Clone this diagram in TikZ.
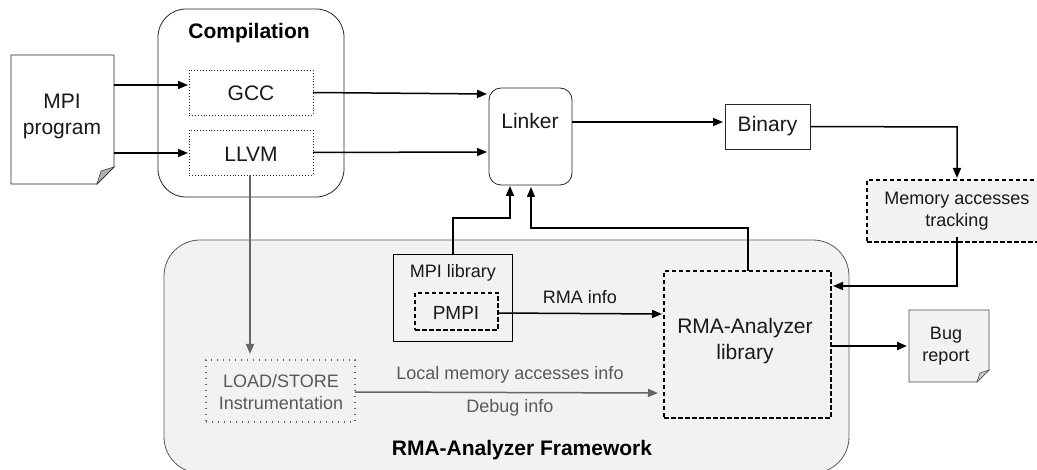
\documentclass[tikz,border=0pt]{standalone}
\usepackage{fontspec}
\setmainfont{Liberation Sans}
\usetikzlibrary{arrows.meta}
\tikzset{
  x=1pt,y=-1pt,
  every node/.style={inner sep=0pt,outer sep=0pt,align=center,text=black!90},
  box/.style={draw=black!85,line width=0.8pt,rectangle,anchor=north west},
  dotbox/.style={box,line width=0.8pt,dash pattern=on 0.9pt off 2pt},
  dashbox/.style={box,draw=black,line width=1.2pt,dash pattern=on 4.5pt off 2.5pt},
  framebox/.style={draw=black!65,line width=0.8pt,rounded corners=36pt},
  conn/.style={draw=black,line width=1.5pt,-{Triangle[length=10pt,width=8pt]}},
  gconn/.style={draw=black!60,line width=1.5pt,-{Triangle[length=10pt,width=8pt]}},
  big/.style={font=\fontsize{21}{26}\selectfont},
  mid/.style={font=\fontsize{18}{22}\selectfont},
  heading/.style={font=\bfseries\fontsize{21}{24}\selectfont,text=black},
}
\begin{document}
\begin{tikzpicture}
\useasboundingbox (0,0) rectangle (1037,470);
\clip (0,0) rectangle (1037,470);
% framework
\path[framebox,fill=black!5] (164,240) rectangle (849,473);
% compilation
\draw[draw=black!85,line width=0.8pt,rounded corners=28pt] (158,9) rectangle (344,197);
\node[heading] (comp) at (249,33) {Compilation};
% MPI program
\draw[draw=black!85,line width=0.8pt] (11,55) -- (114,55) -- (114,167) -- (97,184) -- (11,184) -- cycle;
\draw[draw=black!85,line width=0.5pt,fill=black!30] (114,167) -- (101,171) -- (97,184) -- cycle;
\node[big] (prog) at (62,116) {MPI\\program};
\coordinate (progA) at (114,85);
\coordinate (progB) at (114,153);
% compilers
\node[dotbox,minimum width=124pt,minimum height=45pt] (gcc) at (189,70) {};
\node[big] at (251,93) {GCC};
\node[dotbox,minimum width=124pt,minimum height=45pt] (llvm) at (189,130) {};
\node[big] at (251,154) {LLVM};
% linker
\node[draw=black!85,line width=0.8pt,rounded corners=12pt,anchor=north west,minimum width=83pt,minimum height=97pt] (linker) at (489,88) {};
\node[big] at (530,121) {Linker};
% binary
\node[box,minimum width=85pt,minimum height=45pt,big] (binary) at (725,104) {Binary};
% memory
\node[dashbox,fill=black!5,minimum width=175pt,minimum height=62pt] (mem) at (867,180) {};
\node[mid] at (957,211) {Memory accesses\\tracking};
% rma lib
\node[dashbox,minimum width=167pt,minimum height=147pt] (rma) at (664,271) {};
\node[big] at (745,341) {RMA-Analyzer\\library};
% bug
\draw[draw=black!70,fill=black!5,line width=0.8pt] (909,310) -- (989,310) -- (989,370) -- (977,382) -- (909,382) -- cycle;
\draw[draw=black!70,fill=black!20,line width=0.5pt] (989,370) -- (980,373) -- (977,382) -- cycle;
\node[mid] (bug) at (946,346) {Bug\\report};
% MPI lib
\node[box,draw=black,minimum width=119pt,minimum height=87pt] (mpilib) at (393,254) {};
\node[mid] at (453,273) {MPI library};
\node[dashbox,minimum width=83pt,minimum height=37pt] (pmpi) at (415,293) {};
\node[font=\fontsize{19}{22}\selectfont] at (456,313) {PMPI};
% load/store
\node[draw=black!60,line width=1.1pt,dash pattern=on 1.2pt off 4.8pt,rectangle,anchor=north west,minimum width=149pt,minimum height=62pt] (load) at (206,360) {};
\node[mid,text=black!65] at (281,392) {LOAD/STORE\\Instrumentation};
% labels
\node[mid] at (580,297) {RMA info};
\node[mid,text=black!65] at (510,375) {Local memory accesses info};
\node[mid,text=black!65] at (510,408) {Debug info};
\node[heading] (fw) at (522,450) {RMA-Analyzer Framework};
% connectors
\draw[conn] (progA) -- (188,85);
\draw[conn] (progB) -- (188,153);
\draw[conn] (gcc.east) -- (487,94);
\draw[conn] (llvm.east) -- (487,152);
\draw[conn] (572,122) -- (723,122);
\draw[conn] (binary.east) -- (957,127) -- (957,178);
\draw[conn] (957,237) -- (957,286) -- (833,286);
\draw[conn] (748,271) -- (748,228) -- (531,228) -- (531,187);
\draw[conn] (453,254) -- (453,218) -- (510,218) -- (510,186);
\draw[gconn] (250,175) -- (250,354);
\draw[conn] (497,313) -- (662,314);
\draw[gconn] (355,392) -- (658,393);
\draw[conn,line width=2.2pt] (831,346) -- (907,346);
\end{tikzpicture}
\end{document}
